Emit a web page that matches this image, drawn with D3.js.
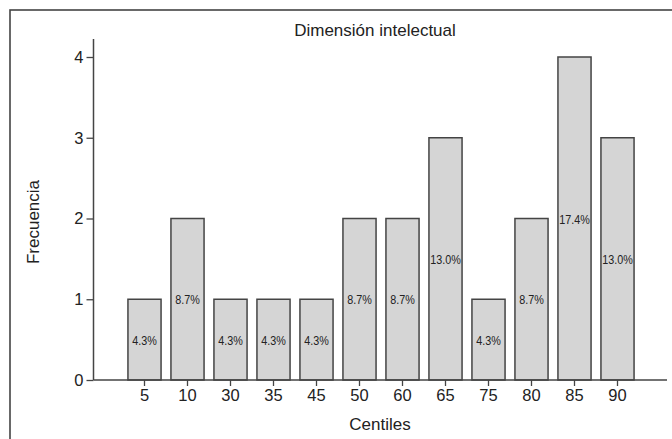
<!DOCTYPE html>
<html>
<head>
<meta charset="utf-8">
<script src="https://cdn.jsdelivr.net/npm/d3@7"></script>
<style>
  html, body { margin: 0; padding: 0; background: #fff; }
  svg { display: block; }
  text { font-family: "Liberation Sans", Arial, sans-serif; fill: #222; }
</style>
</head>
<body>
<svg id="chart" width="672" height="439"></svg>
<script>
const categories = ["5", "10", "30", "35", "45", "50", "60", "65", "75", "80", "85", "90"];
const frequencies = [1, 2, 1, 1, 1, 2, 2, 3, 1, 2, 4, 3];
const percentLabels = ["4.3%", "8.7%", "4.3%", "4.3%", "4.3%", "8.7%", "8.7%", "13.0%", "4.3%", "8.7%", "17.4%", "13.0%"];
const yTicks = [0, 1, 2, 3, 4];
const title = "Dimensión intelectual";
const xTitle = "Centiles";
const yTitle = "Frecuencia";

const svg = d3.select("#chart");

// outer frame
svg.append("rect")
  .attr("x", 10).attr("y", 10)
  .attr("width", 700).attr("height", 500)
  .attr("fill", "none").attr("stroke", "#444").attr("stroke-width", 1.6);

const x = d3.scaleBand()
  .domain(categories)
  .range([123, 639])
  .paddingInner(0.23)
  .paddingOuter(0.115);

const y = d3.scaleLinear().domain([0, 4]).range([380, 57]);

// bars
const data = categories.map((c, i) => ({c, v: frequencies[i], p: percentLabels[i]}));

svg.append("g").selectAll("rect")
  .data(data).join("rect")
  .attr("x", d => x(d.c))
  .attr("y", d => y(d.v))
  .attr("width", x.bandwidth())
  .attr("height", d => y(0) - y(d.v))
  .attr("fill", "#d5d5d5")
  .attr("stroke", "#444")
  .attr("stroke-width", 1.5);

// percent labels (condensed)
svg.append("g").selectAll("text")
  .data(data).join("text")
  .attr("transform", d => `translate(${x(d.c) + x.bandwidth() / 2},${(y(d.v) + y(0)) / 2 + 5}) scale(0.8,1)`)
  .attr("text-anchor", "middle")
  .attr("font-size", 13.5)
  .attr("fill", "#333")
  .text(d => d.p);

// y axis
const yAxis = svg.append("g").attr("transform", "translate(93.5,0)")
  .call(d3.axisLeft(y).tickValues(yTicks).tickFormat(d3.format("d")).tickSize(7).tickPadding(3));
yAxis.select(".domain").remove();
yAxis.selectAll(".tick line").attr("stroke", "#444").attr("stroke-width", 1.3);
yAxis.selectAll(".tick text").attr("font-size", 16.5).attr("fill", "#222")
  .attr("font-family", "'Liberation Sans', Arial, sans-serif");
svg.append("line")
  .attr("x1", 93.5).attr("x2", 93.5).attr("y1", 39).attr("y2", y(0))
  .attr("stroke", "#444").attr("stroke-width", 1.5);

// x axis
const xAxis = svg.append("g").attr("transform", `translate(0,${y(0)})`)
  .call(d3.axisBottom(x).tickSize(6).tickPadding(3));
xAxis.select(".domain").remove();
xAxis.selectAll(".tick line").attr("stroke", "#444").attr("stroke-width", 1.3);
xAxis.selectAll(".tick text").attr("font-size", 16.5).attr("fill", "#222")
  .attr("font-family", "'Liberation Sans', Arial, sans-serif");
svg.append("line")
  .attr("x1", 93.5).attr("x2", 667).attr("y1", y(0)).attr("y2", y(0))
  .attr("stroke", "#444").attr("stroke-width", 1.5);

// titles
svg.append("text")
  .attr("x", 375).attr("y", 36)
  .attr("text-anchor", "middle").attr("font-size", 17)
  .text(title);

svg.append("text")
  .attr("x", 380).attr("y", 430)
  .attr("text-anchor", "middle").attr("font-size", 17)
  .text(xTitle);

svg.append("text")
  .attr("transform", "translate(39,222) rotate(-90)")
  .attr("text-anchor", "middle").attr("font-size", 17)
  .text(yTitle);
</script>
</body>
</html>
